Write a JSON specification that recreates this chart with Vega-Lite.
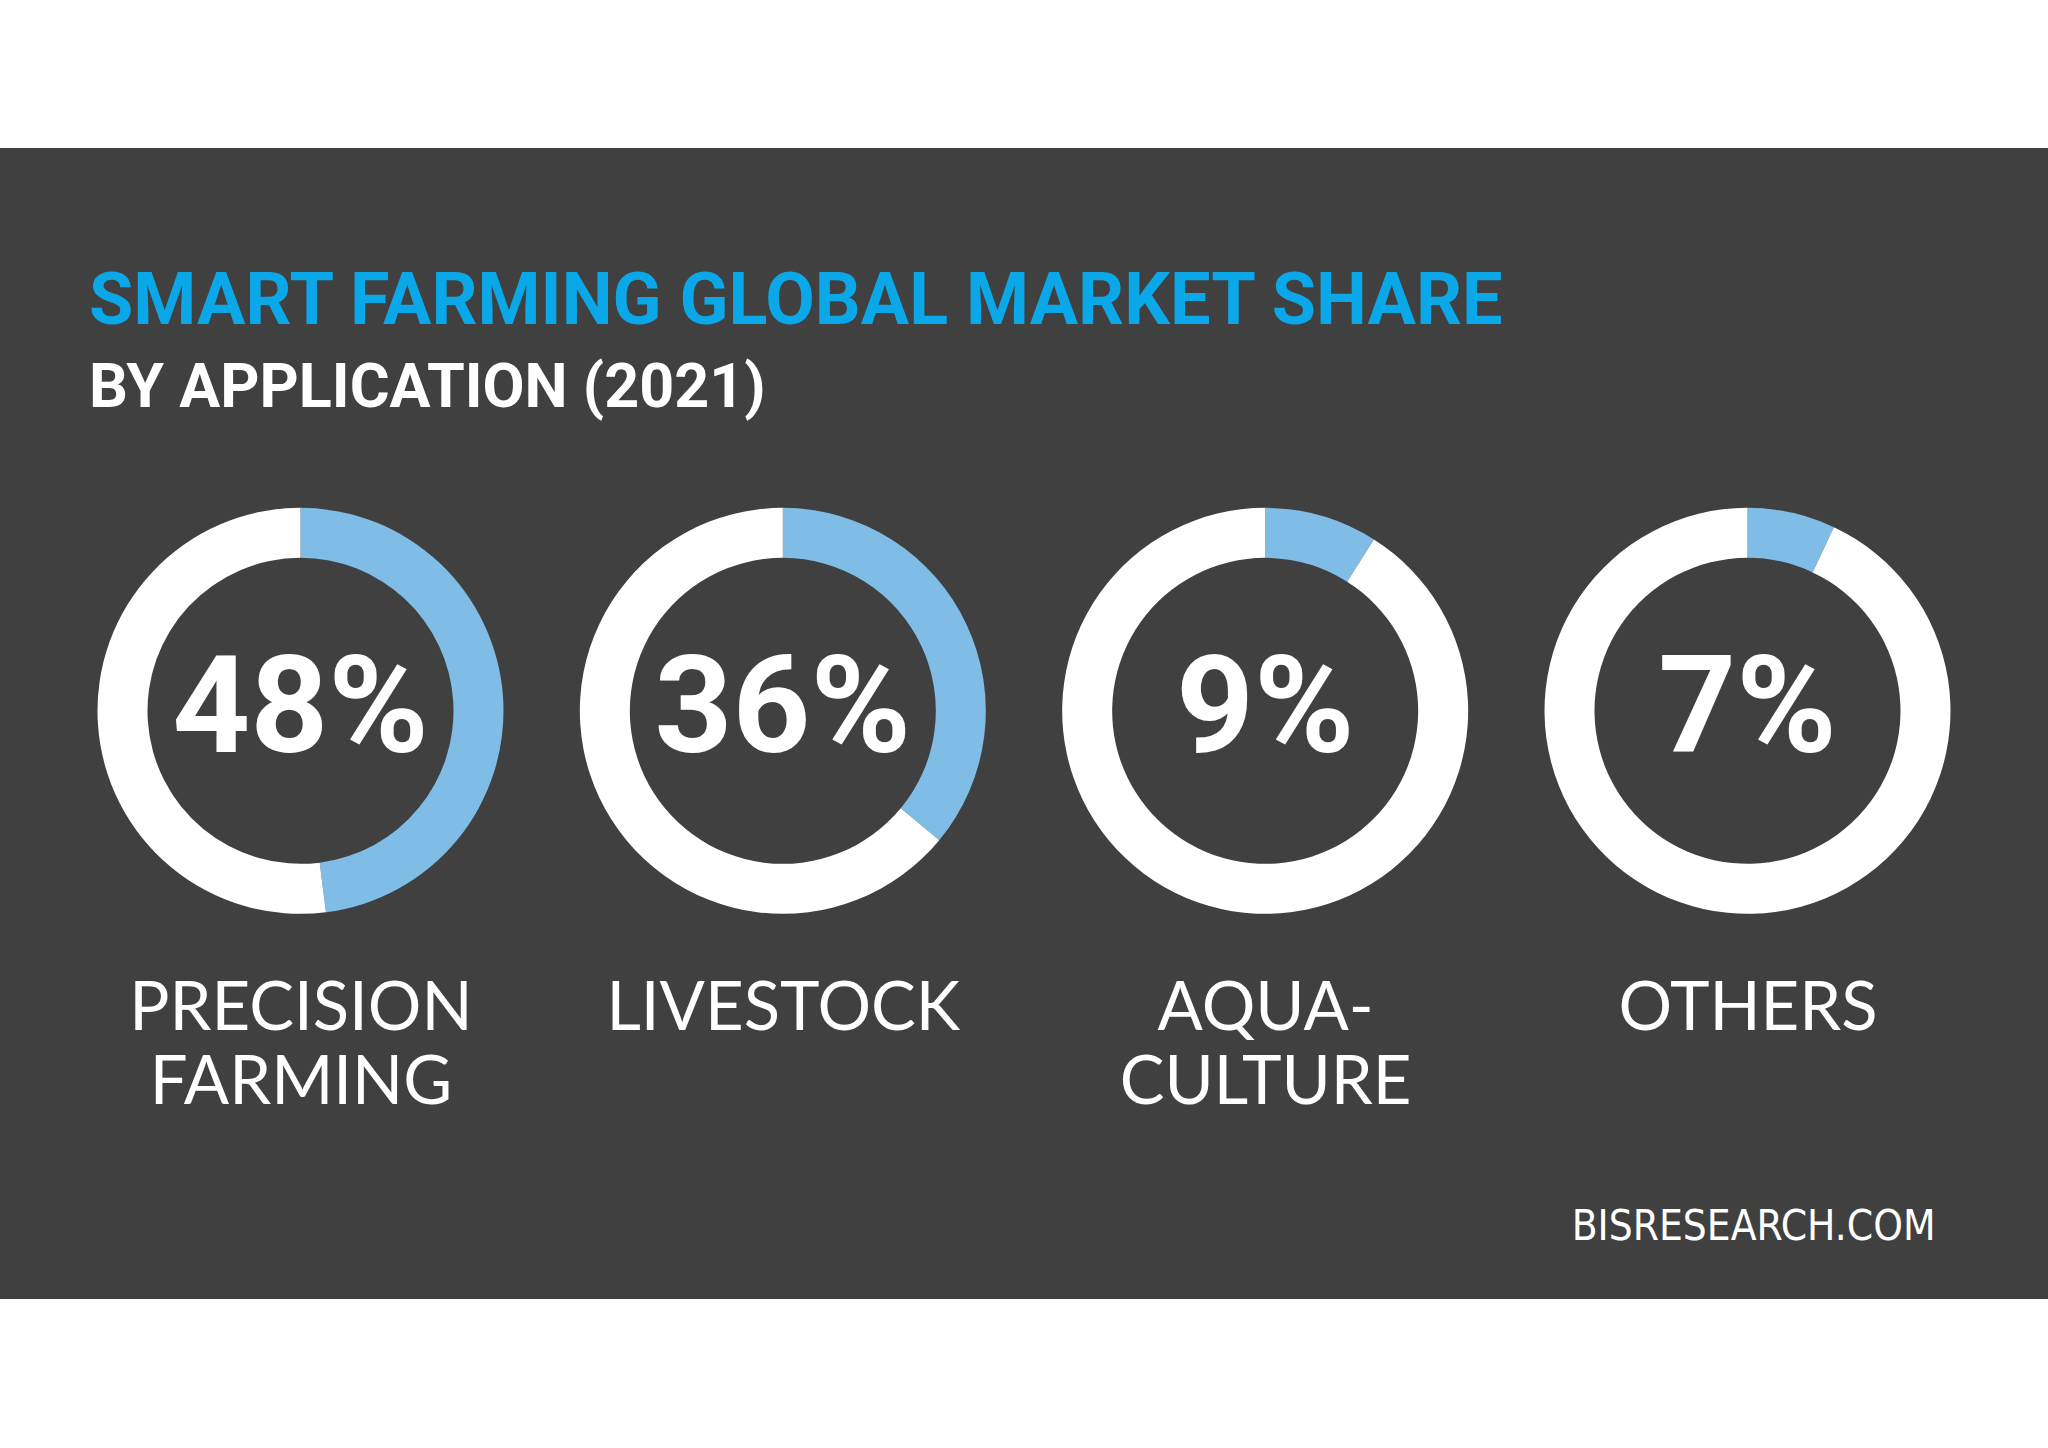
{
  "$schema": "https://vega.github.io/schema/vega-lite/v6.json",
  "width": 2048,
  "height": 1151,
  "autosize": {"type": "none"},
  "padding": {"top": 148, "bottom": 149, "left": 0, "right": 0},
  "background": "#ffffff",
  "title": {
    "text": "SMART FARMING GLOBAL MARKET SHARE",
    "subtitle": "BY APPLICATION (2021)",
    "anchor": "start",
    "frame": "group",
    "orient": "top",
    "offset": -272,
    "dx": 89,
    "font": "Roboto",
    "fontWeight": "bold",
    "fontSize": 72,
    "color": "#0aa8e8",
    "subtitleFont": "Roboto",
    "subtitleFontWeight": "bold",
    "subtitleFontSize": 61,
    "subtitleColor": "#ffffff",
    "subtitlePadding": 20
  },
  "data": {
    "values": [
      {"application": "PRECISION\nFARMING", "part": "share", "value": 0.48},
      {"application": "PRECISION\nFARMING", "part": "rest", "value": 0.52},
      {"application": "LIVESTOCK", "part": "share", "value": 0.36},
      {"application": "LIVESTOCK", "part": "rest", "value": 0.64},
      {"application": "AQUA-\nCULTURE", "part": "share", "value": 0.09},
      {"application": "AQUA-\nCULTURE", "part": "rest", "value": 0.91},
      {"application": "OTHERS", "part": "share", "value": 0.07},
      {"application": "OTHERS", "part": "rest", "value": 0.93}
    ]
  },
  "transform": [
    {"stack": "value", "groupby": ["application"], "sort": [{"field": "part", "order": "descending"}], "as": ["t0", "t1"]}
  ],
  "encoding": {
    "x": {
      "field": "application",
      "type": "nominal",
      "sort": ["PRECISION\nFARMING", "LIVESTOCK", "AQUA-\nCULTURE", "OTHERS"],
      "scale": {"type": "point", "padding": 0.623},
      "axis": {
        "orient": "bottom",
        "offset": -323,
        "domain": false,
        "ticks": false,
        "grid": false,
        "labelPadding": 0,
        "labelAngle": 0,
        "labelLimit": 0,
        "labelExpr": "split(datum.label, '\\n')",
        "labelFont": "Lato",
        "labelFontSize": 67,
        "labelLineHeight": 74,
        "labelColor": "#ffffff",
        "labelBaseline": "top",
        "labelOverlap": false,
        "title": "BISRESEARCH.COM",
        "titleFont": "DejaVu Sans Condensed",
        "titleFontSize": 42,
        "titleFontWeight": "normal",
        "titleColor": "#ffffff",
        "titleAlign": "right",
        "titleBaseline": "alphabetic",
        "titleX": 1935,
        "titleY": 263
      }
    },
    "y": {
      "datum": "ring",
      "type": "nominal",
      "scale": {"type": "point", "align": 0.489},
      "axis": null
    }
  },
  "layer": [
    {
      "mark": {"type": "arc", "outerRadius": 203, "innerRadius": 153},
      "encoding": {
        "theta": {"field": "t0", "type": "quantitative", "scale": {"domain": [0, 1]}},
        "theta2": {"field": "t1"},
        "color": {
          "field": "part",
          "type": "nominal",
          "scale": {"domain": ["share", "rest"], "range": ["#7fbce6", "#ffffff"]},
          "legend": null
        }
      }
    },
    {
      "transform": [{"filter": "datum.part == 'share'"}],
      "mark": {
        "type": "text",
        "font": "Roboto",
        "fontWeight": "bold",
        "fontSize": 136,
        "color": "#ffffff",
        "align": "center",
        "baseline": "middle"
      },
      "encoding": {
        "text": {"field": "value", "type": "quantitative", "format": ".0%"}
      }
    }
  ],
  "config": {
    "view": {"fill": "#404040", "stroke": null}
  }
}
